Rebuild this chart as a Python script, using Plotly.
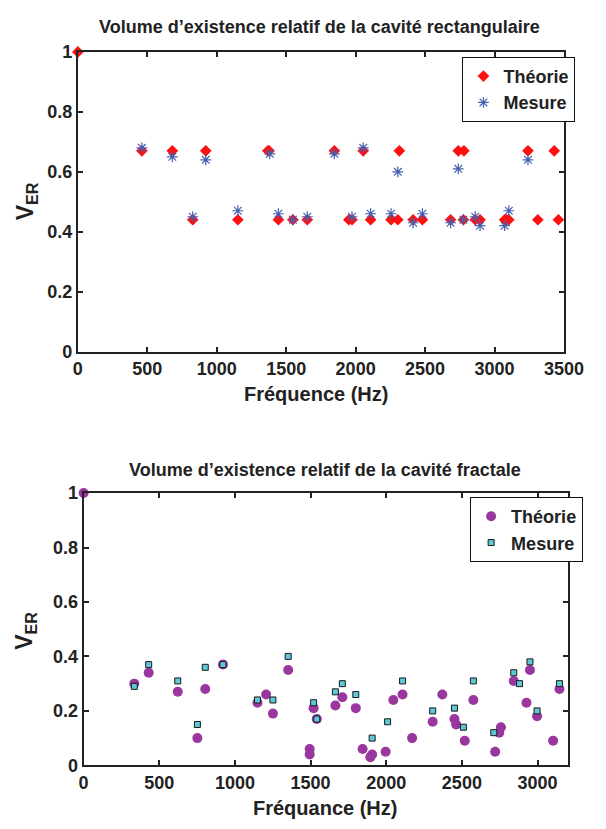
import plotly.graph_objects as go

W, H = 606, 829

# ---------- Data: rectangular cavity ----------
rect_theo_f = [0, 461, 680, 827, 921, 1152, 1368, 1377, 1444, 1548, 1652, 1847, 1951, 1974,
               2055, 2108, 2255, 2304, 2315, 2414, 2481, 2684, 2739, 2776, 2780, 2861, 2896,
               3073, 3087, 3103, 3241, 3312, 3430, 3460]
rect_theo_v = [1.0, 0.67, 0.67, 0.44, 0.67, 0.44, 0.67, 0.67, 0.44, 0.44, 0.44, 0.67, 0.44, 0.44,
               0.67, 0.44, 0.44, 0.44, 0.67, 0.44, 0.44, 0.44, 0.67, 0.44, 0.67, 0.44, 0.44,
               0.44, 0.44, 0.44, 0.67, 0.44, 0.67, 0.44]
rect_meas_f = [461, 680, 827, 921, 1152, 1382, 1444, 1548, 1652, 1847, 1974, 2055, 2108, 2255,
               2304, 2414, 2481, 2684, 2739, 2776, 2861, 2896, 3073, 3103, 3241]
rect_meas_v = [0.68, 0.65, 0.45, 0.64, 0.47, 0.66, 0.46, 0.44, 0.45, 0.66, 0.45, 0.68, 0.46, 0.46,
               0.60, 0.43, 0.46, 0.43, 0.61, 0.44, 0.45, 0.42, 0.42, 0.47, 0.64]

# ---------- Data: fractal cavity ----------
frac_theo_f = [0, 335, 430, 622, 752, 804, 921, 1149, 1206, 1251, 1352, 1494, 1494, 1520, 1541,
               1664, 1710, 1799, 1844, 1895, 1907, 1996, 2047, 2108, 2171, 2307, 2371, 2451,
               2462, 2519, 2576, 2720, 2747, 2758, 2843, 2927, 2950, 2997, 3103, 3145]
frac_theo_v = [1.0, 0.30, 0.34, 0.27, 0.10, 0.28, 0.37, 0.23, 0.26, 0.19, 0.35, 0.06, 0.04, 0.21, 0.17,
               0.22, 0.25, 0.21, 0.06, 0.03, 0.04, 0.05, 0.24, 0.26, 0.10, 0.16, 0.26, 0.17,
               0.15, 0.09, 0.24, 0.05, 0.12, 0.14, 0.31, 0.23, 0.35, 0.18, 0.09, 0.28]
frac_meas_f = [335, 430, 622, 752, 804, 921, 1149, 1251, 1352, 1520, 1541, 1664, 1710, 1799,
               1907, 2009, 2108, 2307, 2451, 2510, 2576, 2711, 2843, 2881, 2950, 2997, 3145]
frac_meas_v = [0.29, 0.37, 0.31, 0.15, 0.36, 0.37, 0.24, 0.24, 0.40, 0.23, 0.17, 0.27, 0.30, 0.26,
               0.10, 0.16, 0.31, 0.20, 0.21, 0.14, 0.31, 0.12, 0.34, 0.30, 0.38, 0.20, 0.30]

x_ticks_top = [0, 500, 1000, 1500, 2000, 2500, 3000, 3500]
x_ticks_bot = [0, 500, 1000, 1500, 2000, 2500, 3000]
y_ticks = [0, 0.2, 0.4, 0.6, 0.8, 1]

FONT = "Liberation Sans, Arial, sans-serif"
TXT = "#222222"

fig = go.Figure()

fig.add_trace(go.Scatter(x=rect_theo_f, y=rect_theo_v, mode="markers", name="Théorie",
                         marker=dict(symbol="diamond", size=9, color="#FF1010", line=dict(width=0)),
                         xaxis="x", yaxis="y", legend="legend", cliponaxis=False))
fig.add_trace(go.Scatter(x=rect_meas_f, y=rect_meas_v, mode="markers", name="Mesure",
                         marker=dict(symbol="asterisk-open", size=9, color="#4660B0",
                                     line=dict(width=1.2, color="#4660B0")),
                         xaxis="x", yaxis="y", legend="legend", cliponaxis=False))

fig.add_trace(go.Scatter(x=frac_theo_f, y=frac_theo_v, mode="markers", name="Théorie",
                         marker=dict(symbol="circle", size=10, color="#9A379E", line=dict(width=0)),
                         xaxis="x2", yaxis="y2", legend="legend2", cliponaxis=False))
fig.add_trace(go.Scatter(x=frac_meas_f, y=frac_meas_v, mode="markers", name="Mesure",
                         marker=dict(symbol="square", size=6, color="#5CC8D8",
                                     line=dict(width=1, color="#1a1a1a")),
                         xaxis="x2", yaxis="y2", legend="legend2", cliponaxis=False))

axis_common = dict(showgrid=False, zeroline=False, showline=True, mirror="ticks",
                   linecolor="#222222", linewidth=2, ticks="inside", ticklen=5,
                   tickcolor="#222222", tickwidth=1.5,
                   tickfont=dict(family=FONT, size=18, color=TXT, weight="bold"))

legend_common = dict(xanchor="right", yanchor="top", bordercolor="#111111", borderwidth=1,
                     bgcolor="white", font=dict(family=FONT, size=18, color=TXT, weight="bold"),
                     itemsizing="trace", tracegroupgap=0, itemwidth=30)

fig.update_layout(
    width=W, height=H, margin=dict(l=0, r=0, t=0, b=0),
    paper_bgcolor="white", plot_bgcolor="white",
    showlegend=True,
    xaxis=dict(domain=[76 / W, 583 / W], anchor="y", range=[0, 3500], tickvals=x_ticks_top,
               **axis_common),
    yaxis=dict(domain=[1 - 350 / H, 1 - 43 / H], anchor="x", range=[0, 1], tickvals=y_ticks,
               **axis_common),
    xaxis2=dict(domain=[82 / W, 587 / W], anchor="y2", range=[0, 3200], tickvals=x_ticks_bot,
                **axis_common),
    yaxis2=dict(domain=[1 - 774 / H, 1 - 495 / H], anchor="x2", range=[0, 1], tickvals=y_ticks,
                **axis_common),
    legend=dict(x=595 / W, y=1 - 48 / H, **legend_common),
    legend2=dict(x=603 / W, y=1 - 499 / H, **legend_common),
)

ann_font = dict(family=FONT, color=TXT, weight="bold")
annotations = [
    dict(text="Volume d’existence relatif de la cavité rectangulaire", x=328 / W, y=1 - 17 / H,
         font=dict(size=18, **ann_font)),
    dict(text="Fréquence (Hz)", x=324 / W, y=1 - 394 / H, font=dict(size=20, **ann_font)),
    dict(text="V<sub>ER</sub>", x=22 / W, y=1 - 196 / H, textangle=-90,
         font=dict(size=23, **ann_font)),
    dict(text="Volume d’existence relatif de la cavité fractale", x=334 / W, y=1 - 471 / H,
         font=dict(size=18, **ann_font)),
    dict(text="Fréquance (Hz)", x=334 / W, y=1 - 818 / H, font=dict(size=20, **ann_font)),
    dict(text="V<sub>ER</sub>", x=22 / W, y=1 - 636 / H, textangle=-90,
         font=dict(size=23, **ann_font)),
]
for a in annotations:
    a.update(xref="paper", yref="paper", showarrow=False, xanchor="center", yanchor="middle")
fig.update_layout(annotations=annotations)

fig.write_html("out.html")
